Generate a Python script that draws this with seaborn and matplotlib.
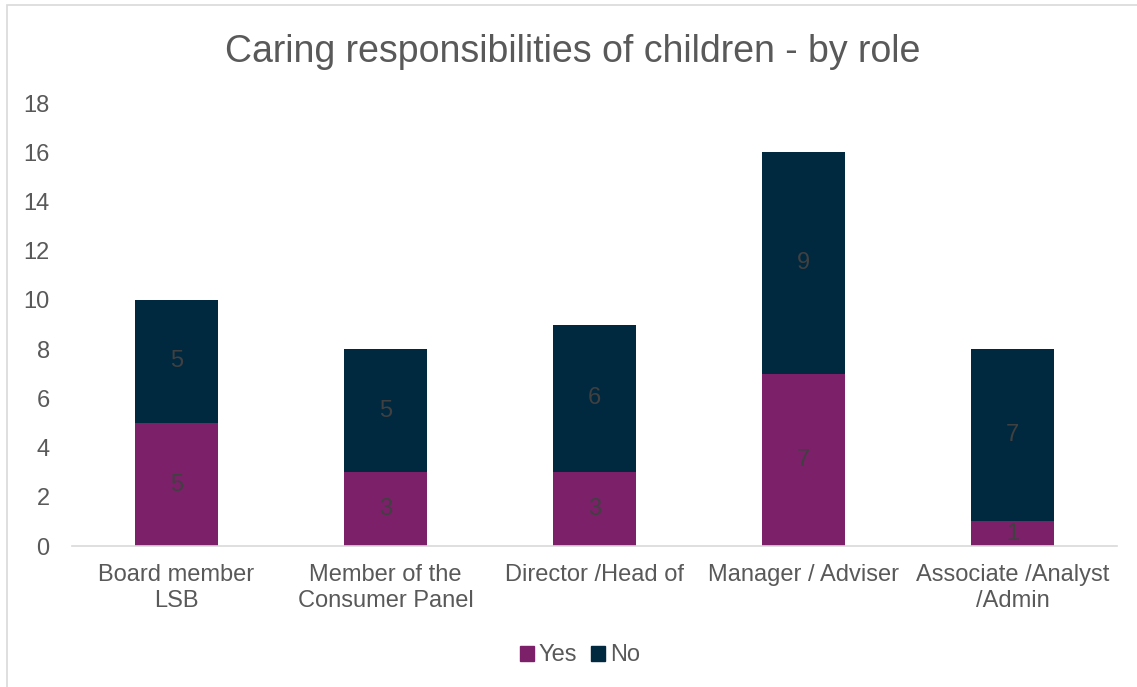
import matplotlib
matplotlib.use("Agg")
import matplotlib.pyplot as plt
import seaborn as sns
import pandas as pd
from matplotlib.patches import Rectangle, Patch

roles = ["Board member\nLSB", "Member of the\nConsumer Panel", "Director /Head of",
         "Manager / Adviser", "Associate /Analyst\n/Admin"]
yes_counts = [5, 3, 3, 7, 1]
no_counts = [5, 5, 6, 9, 7]

YES_COLOR = "#7B2069"
NO_COLOR = "#00283F"
TEXT_COLOR = "#595959"
LABEL_COLOR = "#404040"

sns.set_theme(style="white")
plt.rcParams["font.family"] = ["Liberation Sans", "DejaVu Sans"]

df = pd.DataFrame({"role": roles, "Yes": yes_counts, "No": no_counts})
df["total"] = df["Yes"] + df["No"]

fig = plt.figure(figsize=(11.37, 6.87), dpi=100)
ax = fig.add_axes([0.0633, 0.2052, 0.9191, 0.6448])

# stacked bars: total in the "No" colour, "Yes" drawn over the bottom part
sns.barplot(data=df, x="role", y="total", color=NO_COLOR, width=0.4,
            saturation=1, linewidth=0, ax=ax)
sns.barplot(data=df, x="role", y="Yes", color=YES_COLOR, width=0.4,
            saturation=1, linewidth=0, ax=ax)

for i, (y, n) in enumerate(zip(yes_counts, no_counts)):
    ax.text(i, y / 2, str(y), ha="center", va="center", fontsize=17, color=LABEL_COLOR)
    ax.text(i, y + n / 2, str(n), ha="center", va="center", fontsize=17, color=LABEL_COLOR)

ax.set_ylim(0, 18)
ax.set_yticks(range(0, 19, 2))
ax.set_xlim(-0.5, len(roles) - 0.5)
ax.set_xlabel("")
ax.set_ylabel("")
ax.tick_params(axis="y", labelsize=17, colors=TEXT_COLOR, length=0, pad=16)
ax.tick_params(axis="x", labelsize=17, colors=TEXT_COLOR, length=0, pad=13)
for lbl in ax.get_xticklabels():
    lbl.set_linespacing(1.22)
for side in ["top", "right", "left"]:
    ax.spines[side].set_visible(False)
ax.spines["bottom"].set_color("#D9D9D9")
ax.spines["bottom"].set_linewidth(1.2)

fig.text(0.5035, 0.925, "Caring responsibilities of children - by role",
         ha="center", va="center", fontsize=27, color=TEXT_COLOR)

handles = [Patch(color=YES_COLOR, label="Yes"), Patch(color=NO_COLOR, label="No")]
fig.legend(handles=handles, loc="center", bbox_to_anchor=(0.51, 0.046), ncol=2,
           frameon=False, fontsize=17, handlelength=0.6, handleheight=0.6,
           handletextpad=0.2, columnspacing=0.6, labelcolor=TEXT_COLOR)

# outer chart border
fig.patches.append(Rectangle((7 / 1137, -0.1), 1.2, 1 - 5 / 687 + 0.1,
                             transform=fig.transFigure, fill=False,
                             edgecolor="#D9D9D9", linewidth=1.2))

fig.savefig("out.png", dpi=100, facecolor="white")
